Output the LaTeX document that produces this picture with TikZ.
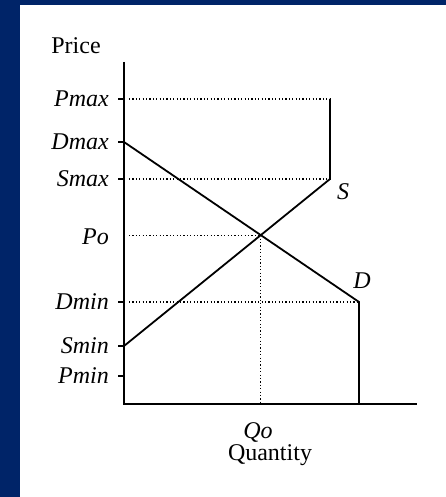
\documentclass[tikz,border=0pt]{standalone}
\usepackage{fontspec}
\setmainfont{Liberation Serif}
\usetikzlibrary{positioning}
\definecolor{SlideNavy}{HTML}{002468}

\begin{document}
\begin{tikzpicture}[x=1pt,y=-1pt,
  axisline/.style={line width=2.2pt,black},
  curveline/.style={line width=1.8pt,black},
  guide/.style={line width=1.2pt,black,dash pattern=on 1.2pt off 2.2pt},
  lab/.style={font=\fontsize{24}{28}\selectfont,inner sep=1pt},
  itlab/.style={font=\fontsize{24}{28}\selectfont\itshape,inner sep=1pt}]
  % slide background with the navy edge
  \fill[SlideNavy] (0,0) rectangle (446,497);
  \fill[white] (20,5) rectangle (446,497);
  \useasboundingbox (0,0) rectangle (446,497);
  % axes
  \coordinate (O) at (124,404);
  \coordinate (ytop) at (124,62);
  \coordinate (xend) at (417,404);
  \draw[axisline] (ytop) -- (O) -- (xend);
  \node[lab] (price) at (76,46) {Price};
  % price levels with ticks
  \foreach \lev/\y in {Pmax/99,Dmax/142,Smax/179,Dmin/302,Smin/346,Pmin/376}{
    \coordinate (\lev) at (124,\y);
    \draw[axisline] (\lev) -- ++(-6,0);
    \node[itlab,anchor=east] (l\lev) at (110,\y) {\lev};
  }
  % supply and demand
  \coordinate (Stop) at (330,179);
  \coordinate (Scap) at (330,99);
  \coordinate (Dbot) at (359,302);
  \coordinate (Dend) at (359,404);
  \draw[curveline] (Smin) -- (Stop) -- (Scap);
  \draw[curveline] (Dmax) -- (Dbot) -- (Dend);
  \node[itlab] (S) at (343,192) {S};
  \node[itlab] (D) at (362,281) {D};
  % equilibrium
  \coordinate (E) at (intersection of Smin--Stop and Dmax--Dbot);
  \coordinate (Po) at (O |- E);
  \coordinate (Qo) at (E |- O);
  \node[itlab,anchor=east] (lPo) at (110,237) {Po};
  \node[itlab] (lQo) at (258,432) {Qo};
  \node[lab] (qty) at (270,455) {Quantity};
  % dotted guides
  \draw[guide] ([xshift=5pt]Pmax) -- (Scap);
  \draw[guide] ([xshift=5pt]Smax) -- (Stop);
  \draw[guide] ([xshift=5pt]Dmin) -- (Dbot);
  \draw[guide] ([xshift=5pt]Po) -- (E);
  \draw[guide] (E) -- (Qo);
\end{tikzpicture}
\end{document}
